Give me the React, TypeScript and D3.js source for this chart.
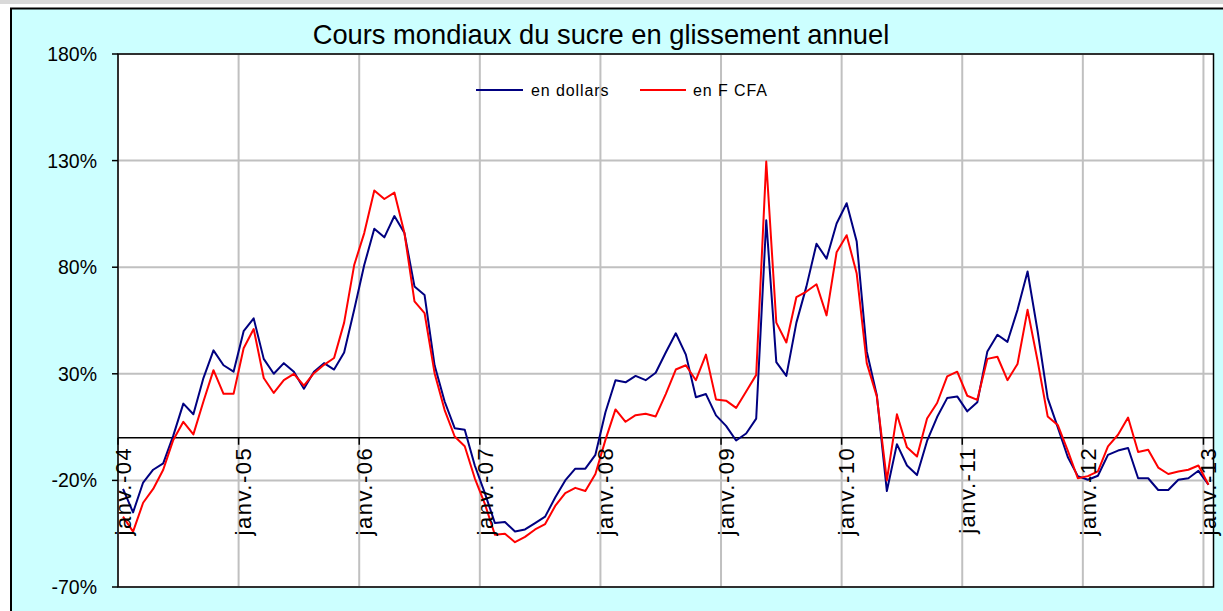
import React from "react";
import * as d3 from "d3";

const title = "Cours mondiaux du sucre en glissement annuel";
const seriesNames = ["en dollars", "en F CFA"];
const seriesColors = ["#000080", "#ff0000"];
const yTicks = [-70, -20, 30, 80, 130, 180];
const tickYears = ["04", "05", "06", "07", "08", "09", "10", "11", "12", "13"];
const monthAbbr = ["janv.", "févr.", "mars", "avr.", "mai", "juin", "juil.", "août", "sept.", "oct.", "nov.", "déc."];

// monthly values, janv.-04 .. janv.-13 (109 points), in %
const dollars = [
  -24, -35, -21, -15, -12, 1, 16, 11, 28, 41, 34, 31,
  50, 56, 37, 30, 35, 31, 23, 31, 35, 32, 40, 60,
  81, 98, 94, 104, 96, 71, 67, 34, 17, 4.5, 3.8, -13,
  -26, -40, -39.5, -44, -43, -40, -37, -28, -20, -14.5, -14.5, -8,
  12, 27, 26, 29, 27, 30.5, 40, 49, 39, 19, 20.5, 10.5,
  5.6, -1.3, 2, 9, 102, 35.5, 29, 54, 71, 91, 84, 100.5,
  110, 92, 40.5, 20, -25, -3, -13, -17.5, -1.5, 9.7, 18.6, 19.4,
  12.4, 16.6, 40.5, 48.3, 45, 60, 78, 50, 18.6, 5, -9, -18,
  -19.7, -17.8, -8, -6, -4.8, -19, -19, -24.5, -24.5, -19.7, -19, -15.5,
  -22,
];
const fcfa = [
  -37, -44, -30.5, -24, -15, -1, 7.5, 1.6, 17, 31.7, 20.6, 20.6,
  42, 51, 28, 21, 27, 30, 24.4, 30.3, 34.2, 37.4, 54, 81,
  96, 116, 112, 115, 96, 64, 58.5, 30.3, 13, 0.6, -4, -19,
  -31, -45.5, -45, -49, -46.5, -43, -40.5, -32, -26, -23.5, -25, -17,
  -1, 13.3, 7.5, 10.6, 11.3, 10, 20.5, 32, 34, 27, 39, 18,
  17.4, 14, 21.7, 29.5, 129.6, 54, 44.7, 66, 68.6, 72, 57.4, 87,
  95, 77, 35, 19.4, -20, 11, -4.5, -8.8, 9, 16.3, 28.8, 31,
  19.7, 17.8, 37, 38, 27, 34.6, 60, 36, 10, 6, -6, -19,
  -18, -15.8, -4, 1.4, 9.5, -6.7, -5.6, -14, -17, -15.8, -15, -13,
  -22,
];

const categories: string[] = dollars.map((_, i) => `${monthAbbr[i % 12]}-${tickYears[Math.floor(i / 12)]}`);

const W = 1223;
const H = 611;
const FONT = "'Liberation Sans', Arial, sans-serif";

export default function App() {
  const left = 118;
  const right = 1213.5;
  const top = 54;
  const bottom = 587;

  const x = d3.scaleBand<string>().domain(categories).range([left, right]).padding(0);
  const bw = x.bandwidth();
  const cx = (i: number) => (x(categories[i]) as number) + bw / 2;
  const y = d3.scaleLinear().domain([-70, 180]).range([bottom, top]);

  const line = d3
    .line<number>()
    .x((_, i) => cx(i))
    .y((d) => y(d));

  const janIdx = categories.map((c, i) => (c.startsWith("janv.") ? i : -1)).filter((i) => i >= 0);
  const y0 = y(0);

  return (
    <svg width={W} height={H} style={{ position: "absolute", left: 0, top: 0 }} fontFamily={FONT}>
      <rect x={0} y={0} width={W} height={H} fill="#ffffff" />
      <rect x={0} y={0} width={W} height={4} fill="#d9d9d9" />
      <rect x={11} y={8.5} width={1240} height={640} fill="#ccffff" stroke="#000" strokeWidth={2} />

      {/* plot area */}
      <rect x={left} y={top} width={right - left} height={bottom - top} fill="#ffffff" />

      {/* horizontal gridlines */}
      {yTicks.map((t) => (
        <line key={"h" + t} x1={left} x2={right} y1={y(t)} y2={y(t)} stroke="#c0c0c0" strokeWidth={2} />
      ))}
      {/* vertical gridlines */}
      {janIdx.map((i) => (
        <line key={"v" + i} x1={x(categories[i])} x2={x(categories[i])} y1={top} y2={bottom} stroke="#c0c0c0" strokeWidth={2} />
      ))}

      {/* plot border */}
      <rect x={left} y={top} width={right - left} height={bottom - top} fill="none" stroke="#000" strokeWidth={1.5} />

      {/* y ticks and labels */}
      {yTicks.map((t) => (
        <g key={"yt" + t}>
          <line x1={left - 6} x2={left} y1={y(t)} y2={y(t)} stroke="#000" strokeWidth={1.5} />
          <text x={97} y={y(t)} dy="0.36em" textAnchor="end" fontSize={19.5} fill="#000">
            {t + "%"}
          </text>
        </g>
      ))}

      {/* zero axis */}
      <line x1={left} x2={right} y1={y0} y2={y0} stroke="#000" strokeWidth={1.5} />
      {janIdx.map((i) => (
        <line key={"xt" + i} x1={x(categories[i])} x2={x(categories[i])} y1={y0} y2={y0 + 7} stroke="#000" strokeWidth={1.5} />
      ))}

      {/* series */}
      <path d={line(dollars) || ""} fill="none" stroke={seriesColors[0]} strokeWidth={2} strokeLinejoin="round" />
      <path d={line(fcfa) || ""} fill="none" stroke={seriesColors[1]} strokeWidth={2} strokeLinejoin="round" />

      {/* x labels */}
      {janIdx.map((i) => (
        <text
          key={"xl" + i}
          transform={`translate(${cx(i)},${y0 + 9}) rotate(-90)`}
          dy="0.35em"
          textAnchor="end"
          fontSize={22}
          letterSpacing={1.5}
          fill="#000"
        >
          {categories[i]}
        </text>
      ))}

      {/* title */}
      <text x={601} y={44} textAnchor="middle" fontSize={27.3} fill="#000">
        {title}
      </text>

      {/* legend */}
      <line x1={476} x2={523} y1={90} y2={90} stroke={seriesColors[0]} strokeWidth={2} />
      <text x={531} y={96} fontSize={16} letterSpacing={0.9} fill="#000">
        {seriesNames[0]}
      </text>
      <line x1={640} x2={686} y1={90} y2={90} stroke={seriesColors[1]} strokeWidth={2} />
      <text x={693} y={96} fontSize={16} letterSpacing={0.9} fill="#000">
        {seriesNames[1]}
      </text>
    </svg>
  );
}
